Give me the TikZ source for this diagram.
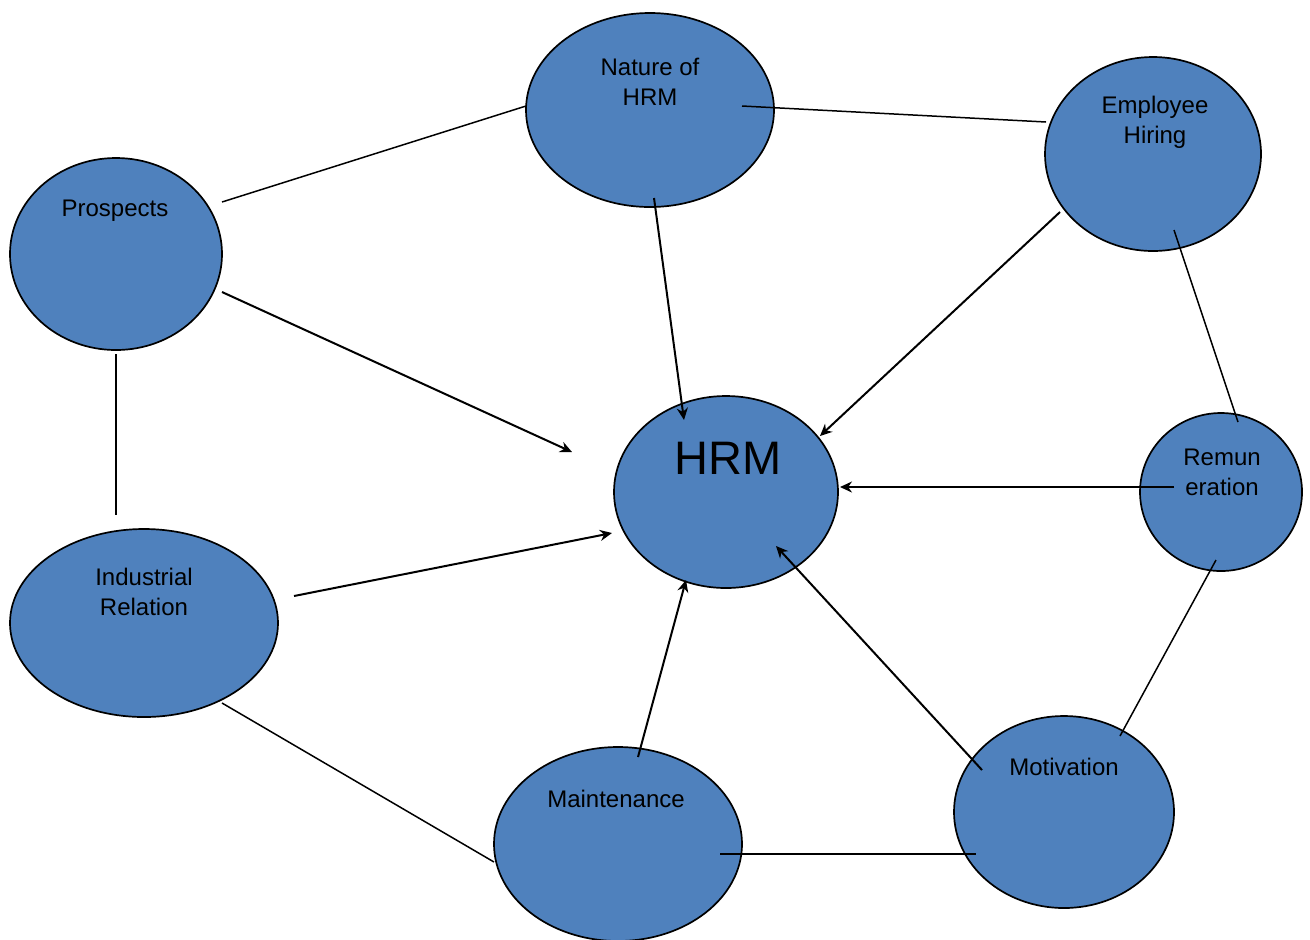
\documentclass[tikz,border=0pt]{standalone}
\usepackage{fontspec}
\setmainfont{Liberation Sans}
\usetikzlibrary{shapes.geometric,arrows.meta}
\definecolor{hrmblue}{HTML}{4F81BD}
\tikzset{
  blob/.style={ellipse,draw=black,line width=0.85pt,fill=hrmblue,inner sep=0pt},
  word/.style={align=center,font=\fontsize{12}{15}\selectfont,inner sep=0pt},
  link/.style={line width=0.75pt},
  feed/.style={line width=1pt,-{Stealth[length=6pt,width=5.5pt]}}
}
\begin{document}
\begin{tikzpicture}[x=0.5pt,y=-0.5pt]
		\useasboundingbox(0,0)rectangle(1310,939);
		\clip(0,0)rectangle(1310,939);
		% circles
		\node[blob,minimum width=124pt,minimum height=97pt](nat)at(650,110){};
		\node[blob,minimum width=108pt,minimum height=97pt](emp)at(1153,154){};
		\node[blob,minimum width=106pt,minimum height=96pt](pros)at(116,254){};
		\node[blob,minimum width=112pt,minimum height=96pt](hrm)at(726,492){};
		\node[blob,minimum width=81pt,minimum height=79pt](rem)at(1221,492){};
		\node[blob,minimum width=134pt,minimum height=94pt](ind)at(144,623){};
		\node[blob,minimum width=124pt,minimum height=97pt](mnt)at(618,844){};
		\node[blob,minimum width=110pt,minimum height=96pt](mot)at(1064,812){};
		% texts
		\node[word](nat-t)at(650,82){Nature of\\HRM};
		\node[word](emp-t)at(1155,122){Employee\\Hiring};
		\node[word](pros-t)at(115,211){Prospects};
		\node[word,font=\fontsize{23.5}{28}\selectfont](hrm-t)at(728,458){HRM};
		\node[word](rem-t)at(1222,472){Remun\\eration};
		\node[word](ind-t)at(144,592){Industrial\\Relation};
		\node[word](mnt-t)at(616,799){Maintenance};
		\node[word](mot-t)at(1064,767){Motivation};
		% plain links
		\draw[link]([shift={(106,-52)}]pros.center)--([shift={(-124,-4)}]nat.center);
		\draw[link]([shift={(92,-4)}]nat.center)--([shift={(-107,-32)}]emp.center);
		\draw[link]([shift={(21,76)}]emp.center)--([shift={(17,-70)}]rem.center);
		\draw[link]([shift={(0,100)}]pros.center)--([shift={(-28,-108)}]ind.center);
		\draw[link]([shift={(78,80)}]ind.center)--([shift={(-124,18)}]mnt.center);
		\draw[link]([shift={(-5,68)}]rem.center)--([shift={(56,-76)}]mot.center);
		\draw[link]([shift={(102,10)}]mnt.center)--([shift={(-88,42)}]mot.center);
		% arrows into HRM
		\draw[feed]([shift={(4,88)}]nat.center)--([shift={(-42,-72)}]hrm.center);
		\draw[feed]([shift={(-93,58)}]emp.center)--([shift={(94,-56)}]hrm.center);
		\draw[feed]([shift={(106,38)}]pros.center)--([shift={(-154,-40)}]hrm.center);
		\draw[feed]([shift={(-47,-5)}]rem.center)--([shift={(114,-5)}]hrm.center);
		\draw[feed]([shift={(150,-27)}]ind.center)--([shift={(-114,41)}]hrm.center);
		\draw[feed]([shift={(20,-87)}]mnt.center)--([shift={(-40,88)}]hrm.center);
		\draw[feed]([shift={(-82,-42)}]mot.center)--([shift={(50,54)}]hrm.center);
	\end{tikzpicture}
\end{document}
